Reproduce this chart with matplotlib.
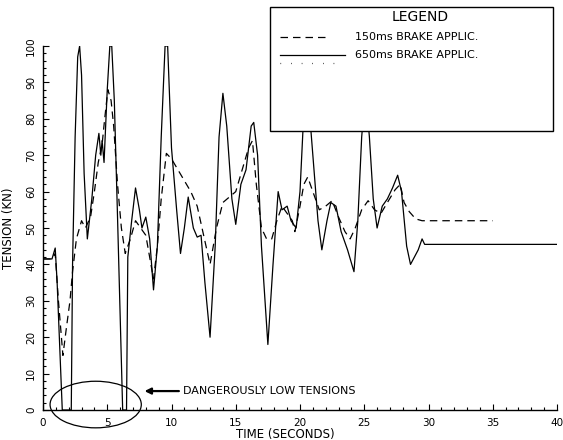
import matplotlib
matplotlib.use("Agg")
import matplotlib.pyplot as plt
from matplotlib.ticker import MultipleLocator
from matplotlib.patches import Ellipse, Rectangle
from matplotlib.lines import Line2D

# ---- data ----
t_650 = [0, 0.7, 0.95, 1.1, 1.5, 2.2, 2.3, 2.5, 2.7, 2.85, 3.0, 3.2, 3.45, 3.8, 4.1, 4.35, 4.5,
         4.6, 4.75, 5.0, 5.2, 5.35, 5.55, 5.8, 6.2, 6.5, 6.6, 6.9, 7.2, 7.5, 7.7, 8.0, 8.3,
         8.6, 8.9, 9.2, 9.5, 9.7, 10.0, 10.4, 10.7, 11.0, 11.3, 11.7, 12.0, 12.3, 12.6, 13.0,
         13.4, 13.7, 14.0, 14.3, 14.7, 15.0, 15.4, 15.8, 16.2, 16.4, 16.7, 17.0, 17.5, 17.9,
         18.3, 18.6, 19.0, 19.3, 19.7, 20.0, 20.3, 20.6, 21.0, 21.4, 21.7, 22.1, 22.4, 22.8,
         23.2, 23.7, 24.2, 24.5, 24.8, 25.1, 25.4, 25.7, 26.0, 26.4, 26.8, 27.2, 27.6, 27.9,
         28.3, 28.6, 28.9, 29.2, 29.5, 29.7, 40]
T_650 = [41.5, 41.5, 44.5, 35, 0, 0, 40, 75, 97, 100, 92, 65, 47, 58, 70, 76, 70,
         74, 68, 88, 100, 100, 85, 53, 0, 0, 42, 52, 61, 55, 50, 53, 47,
         33, 45, 75, 100, 100, 72, 55, 43, 50, 58.5, 50, 47.5, 48, 35, 20,
         45, 75, 87, 78, 58, 51, 62, 66, 78, 79, 70, 45, 18, 40,
         60, 55, 56, 52, 50, 60, 82, 88, 70, 52, 44, 52, 57, 56,
         49, 44, 38, 52, 75, 88, 75, 58, 50, 56, 58, 61, 64.5, 60,
         45, 40, 42, 44, 47, 45.5, 45.5]

t_150 = [0, 0.7, 0.95, 1.2, 1.55, 1.8, 2.1, 2.3, 2.6, 3.0, 3.3, 3.7, 4.0, 4.3, 4.6, 4.8, 5.05,
         5.3, 5.5, 5.8, 6.1, 6.4, 6.8, 7.2, 7.6, 8.0, 8.3, 8.6, 8.9, 9.2, 9.6, 10.0, 10.5,
         11.0, 11.5, 12.0, 12.5, 13.0, 13.5, 14.0, 14.5, 15.0, 15.5, 16.0, 16.3, 16.6, 17.0,
         17.4, 17.8, 18.2, 18.6, 19.0, 19.4, 19.6, 20.0, 20.3, 20.6, 21.0, 21.5, 22.0, 22.5,
         23.0, 23.5, 23.9, 24.3, 24.8, 25.3, 25.8, 26.3, 26.8, 27.4, 27.8, 28.1, 28.5, 29.0,
         29.5, 35]
T_150 = [41.5, 41.5, 43, 30, 15, 22, 30, 38, 47, 52, 50, 53, 60, 68, 73, 80, 88,
         85, 78, 62, 50, 43, 47, 52, 50, 48, 42, 36, 45, 58, 70.5, 69, 66,
         63, 60, 56, 48, 40, 50, 57, 58.5, 60, 66, 72, 74, 62, 50,
         47, 47, 52, 56, 54, 52, 49, 56, 62, 64, 60, 55, 56, 57.5,
         53, 49, 47, 50, 55, 57.5, 55, 54, 57, 60.5, 62, 57, 54.5, 52.5,
         52, 52]

x_ticks = [0, 5, 10, 15, 20, 25, 30, 35, 40]
y_ticks = [0, 10, 20, 30, 40, 50, 60, 70, 80, 90, 100]
legend_labels = ["150ms BRAKE APPLIC.", "650ms BRAKE APPLIC."]

W, H = 563, 440
fig = plt.figure(figsize=(W / 100, H / 100), dpi=100)
ax = fig.add_axes([43 / W, 30 / H, 514 / W, 364 / H])

DASH = (0, (6, 4))
ax.plot(t_150, T_150, color="black", lw=0.9, linestyle=DASH)
ax.plot(t_650, T_650, color="black", lw=0.9)

ax.set_xlim(0, 40)
ax.set_ylim(0, 100)
for s in ("top", "right"):
    ax.spines[s].set_visible(False)
ax.spines["left"].set_linewidth(1.0)
ax.spines["bottom"].set_linewidth(1.0)

ax.set_xticks(x_ticks)
ax.set_yticks(y_ticks)
ax.xaxis.set_minor_locator(MultipleLocator(1))
ax.yaxis.set_minor_locator(MultipleLocator(2))
ax.tick_params(which="major", direction="in", length=4, width=0.8, labelsize=7.5)
ax.tick_params(which="minor", direction="in", length=2.5, width=0.8)
ax.tick_params(axis="x", pad=6)
ax.tick_params(axis="y", pad=5)
for lab in ax.get_yticklabels():
    lab.set_rotation(90)
    lab.set_va("center")

ax.set_xlabel("TIME (SECONDS)", fontsize=8.5, va="center")
ax.xaxis.set_label_coords(0.472, -0.068)
ax.set_ylabel("TENSION (KN)", fontsize=8.5)
ax.yaxis.set_label_coords(-0.055, 0.5)

# annotation: ellipse + arrow
ax.add_patch(Ellipse((4.1, 1.5), 7.1, 12.8, fill=False, lw=0.9, ec="black", clip_on=False))
ax.annotate("DANGEROUSLY LOW TENSIONS", xy=(7.9, 5.2), xytext=(10.9, 5.2),
            fontsize=8, va="center", ha="left",
            arrowprops=dict(arrowstyle="-|>", lw=1.6, color="black", mutation_scale=9,
                            shrinkA=1, shrinkB=0))

# legend box (figure coordinates)
fig.add_artist(Rectangle((270 / W, 1 - 131 / H), 283 / W, 124 / H, transform=fig.transFigure,
                         fc="white", ec="black", lw=1.0, zorder=5))
fig.text(420 / W, 1 - 17 / H, "LEGEND", fontsize=10, ha="center", va="center", zorder=6)
fig.add_artist(Line2D([280 / W, 330 / W], [1 - 37 / H, 1 - 37 / H], transform=fig.transFigure,
                      color="black", lw=0.9, linestyle=DASH, zorder=6))
fig.add_artist(Line2D([280 / W, 345 / W], [1 - 55 / H, 1 - 55 / H], transform=fig.transFigure,
                      color="black", lw=0.9, zorder=6))
fig.add_artist(Line2D([280 / W, 335 / W], [1 - 63 / H, 1 - 63 / H], transform=fig.transFigure,
                      color="black", lw=0.9, linestyle=(0, (0.5, 8)), zorder=6))
fig.text(355 / W, 1 - 37 / H, legend_labels[0], fontsize=8, ha="left", va="center", zorder=6)
fig.text(355 / W, 1 - 55 / H, legend_labels[1], fontsize=8, ha="left", va="center", zorder=6)

fig.savefig("out.png", dpi=100)
